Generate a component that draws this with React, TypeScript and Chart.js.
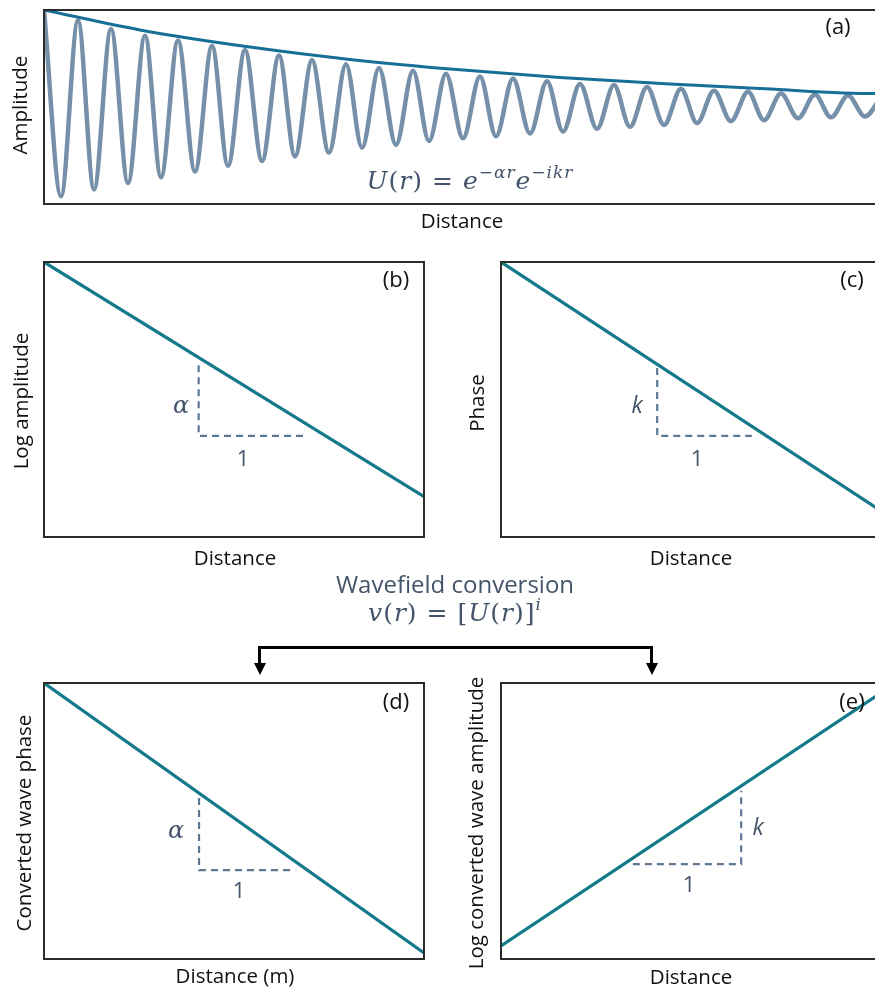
import React, { useEffect, useRef } from "react";
import { Chart, registerables } from "chart.js";
Chart.register(...registerables);

// ---------- Panel (a): damped wave, extrema ----------
const waveX = [0, 17, 34, 50, 67, 84, 101, 117, 134, 151, 168, 184, 201, 218, 235, 251, 268, 285, 302, 318, 335, 352, 369, 385, 402, 419, 436, 452, 469, 486, 503, 519, 536, 553, 570, 586, 603, 620, 637, 653, 670, 687, 704, 720, 737, 754, 771, 787, 804, 821, 838];
const waveY = [1.0, -0.96, 0.89, -0.89, 0.8, -0.82, 0.73, -0.76, 0.68, -0.7, 0.62, -0.64, 0.58, -0.59, 0.52, -0.54, 0.47, -0.5, 0.43, -0.45, 0.39, -0.42, 0.36, -0.38, 0.33, -0.35, 0.3, -0.33, 0.28, -0.3, 0.25, -0.28, 0.22, -0.25, 0.21, -0.23, 0.19, -0.21, 0.17, -0.19, 0.15, -0.17, 0.14, -0.16, 0.12, -0.14, 0.11, -0.13, 0.1, -0.12, 0.1];
const envX = [0, 96, 206, 306, 416, 516, 626, 721, 831, 836];
const envY = [1.0, 0.79, 0.61, 0.48, 0.37, 0.29, 0.22, 0.17, 0.12, 0.12];

// ---------- Panels (b)-(e): straight lines and slope triangles ----------
const lineX = [0, 1];
const lineBY = [1, 0.147];
const lineCY = [1, 0.095];
const lineDY = [1, 0.022];
const lineEY = [0.047, 0.964];

const triBX = [0.407, 0.407, 0.694];
const triBY = [0.625, 0.368, 0.368];
const triCX = [0.411, 0.411, 0.66];
const triCY = [0.615, 0.368, 0.368];
const triDX = [0.408, 0.408, 0.661];
const triDY = [0.583, 0.322, 0.322];
const triEX = [0.347, 0.632, 0.632];
const triEY = [0.344, 0.344, 0.61];

const TEAL = "#13798b";
const ENV = "#176f97";
const WAVE = "#7590a8";
const DASH = "#5f7892";
const SLATE = "#44546a";
const INK = "#111111";

const pts = (xs: number[], ys: number[]) => xs.map((x, i) => ({ x, y: ys[i] }));

const LABEL = '20.5px "Open Sans"';
const PLABEL = '22px "Open Sans"';
const SYM_A = 'italic 24px "DejaVu Serif"';
const SYM_K = 'italic 23px "Open Sans"';
const ONE = '22px "Open Sans"';

type TextItem = { t: string; x: number; y: number; font: string; color: string; rot?: boolean };
type PanelProps = {
  left: number; top: number; width: number; height: number;
  pad: { left: number; top: number; right: number; bottom: number };
  xMin: number; xMax: number; yMin: number; yMax: number;
  datasets: any[];
  texts: TextItem[];
};

function Panel(p: PanelProps) {
  const ref = useRef<HTMLCanvasElement>(null);
  useEffect(() => {
    const decor = {
      id: "decor",
      afterDatasetsDraw(chart: any) {
        const { ctx, chartArea: a } = chart;
        ctx.save();
        ctx.strokeStyle = "#2b2b2b";
        ctx.lineWidth = 2;
        ctx.strokeRect(a.left, a.top, a.right - a.left, a.bottom - a.top);
        for (const t of p.texts) {
          ctx.save();
          ctx.font = t.font;
          ctx.fillStyle = t.color;
          ctx.textAlign = "center";
          ctx.textBaseline = "alphabetic";
          ctx.translate(t.x - p.left, t.y - p.top);
          if (t.rot) ctx.rotate(-Math.PI / 2);
          ctx.fillText(t.t, 0, 0);
          ctx.restore();
        }
        ctx.restore();
      },
    };
    const chart = new Chart(ref.current as HTMLCanvasElement, {
      type: "line",
      data: { datasets: p.datasets },
      options: {
        animation: false,
        responsive: false,
        maintainAspectRatio: false,
        layout: { padding: p.pad },
        elements: { point: { radius: 0, hoverRadius: 0 } },
        plugins: { legend: { display: false }, tooltip: { enabled: false } },
        scales: {
          x: { type: "linear", display: false, min: p.xMin, max: p.xMax },
          y: { type: "linear", display: false, min: p.yMin, max: p.yMax },
        },
      },
      plugins: [decor],
    } as any);
    return () => chart.destroy();
  }, []);
  return (
    <canvas
      ref={ref}
      width={p.width}
      height={p.height}
      style={{ position: "absolute", left: p.left, top: p.top, width: p.width, height: p.height }}
    />
  );
}

const straight = (ys: number[]) => ({
  data: pts(lineX, ys),
  borderColor: TEAL,
  borderWidth: 3.2,
  tension: 0,
  fill: false,
});
const dashed = (xs: number[], ys: number[]) => ({
  data: pts(xs, ys),
  borderColor: DASH,
  borderWidth: 2.2,
  borderDash: [7, 5],
  tension: 0,
  fill: false,
});

const sup: React.CSSProperties = { fontSize: "0.68em", position: "relative", top: "-0.62em" };

export default function App() {
  const mathStyle: React.CSSProperties = {
    position: "absolute",
    fontFamily: '"DejaVu Serif", serif',
    color: SLATE,
    whiteSpace: "nowrap",
    textAlign: "center",
  };
  return (
    <div style={{ position: "absolute", left: 0, top: 0, width: 875, height: 992, overflow: "hidden", background: "#fff" }}>
      <Panel
        left={0} top={0} width={900} height={240}
        pad={{ left: 44, top: 10, right: 20, bottom: 36 }}
        xMin={0} xMax={836} yMin={-1.042} yMax={1.0}
        datasets={[
          { data: pts(envX, envY), borderColor: ENV, borderWidth: 3, cubicInterpolationMode: "monotone", fill: false },
          { data: pts(waveX, waveY), borderColor: WAVE, borderWidth: 4.5, cubicInterpolationMode: "monotone", fill: false },
        ]}
        texts={[
          { t: "Amplitude", x: 27, y: 105, font: LABEL, color: INK, rot: true },
          { t: "Distance", x: 462, y: 228, font: LABEL, color: INK },
          { t: "(a)", x: 838, y: 34, font: PLABEL, color: INK },
        ]}
      />
      <Panel
        left={0} top={240} width={440} height={340}
        pad={{ left: 44, top: 22, right: 16, bottom: 43 }}
        xMin={0} xMax={1} yMin={0} yMax={1}
        datasets={[straight(lineBY), dashed(triBX, triBY)]}
        texts={[
          { t: "Log amplitude", x: 28, y: 401, font: LABEL, color: INK, rot: true },
          { t: "Distance", x: 235, y: 565, font: LABEL, color: INK },
          { t: "(b)", x: 396, y: 287, font: PLABEL, color: INK },
          { t: "α", x: 181, y: 413, font: SYM_A, color: SLATE },
          { t: "1", x: 243, y: 466, font: ONE, color: SLATE },
        ]}
      />
      <Panel
        left={460} top={240} width={440} height={340}
        pad={{ left: 41, top: 22, right: 19, bottom: 43 }}
        xMin={0} xMax={1} yMin={0} yMax={1}
        datasets={[straight(lineCY), dashed(triCX, triCY)]}
        texts={[
          { t: "Phase", x: 484, y: 403, font: LABEL, color: INK, rot: true },
          { t: "Distance", x: 691, y: 565, font: LABEL, color: INK },
          { t: "(c)", x: 852, y: 287, font: PLABEL, color: INK },
          { t: "k", x: 637, y: 413, font: SYM_K, color: SLATE },
          { t: "1", x: 697, y: 466, font: ONE, color: SLATE },
        ]}
      />
      <Panel
        left={0} top={660} width={440} height={332}
        pad={{ left: 44, top: 23, right: 16, bottom: 33 }}
        xMin={0} xMax={1} yMin={0} yMax={1}
        datasets={[straight(lineDY), dashed(triDX, triDY)]}
        texts={[
          { t: "Converted wave phase", x: 31, y: 823, font: LABEL, color: INK, rot: true },
          { t: "Distance (m)", x: 235, y: 983, font: LABEL, color: INK },
          { t: "(d)", x: 396, y: 709, font: PLABEL, color: INK },
          { t: "α", x: 176, y: 838, font: SYM_A, color: SLATE },
          { t: "1", x: 239, y: 898, font: ONE, color: SLATE },
        ]}
      />
      <Panel
        left={460} top={660} width={440} height={332}
        pad={{ left: 41, top: 23, right: 19, bottom: 33 }}
        xMin={0} xMax={1} yMin={0} yMax={1}
        datasets={[straight(lineEY), dashed(triEX, triEY)]}
        texts={[
          { t: "Log converted wave amplitude", x: 483, y: 823, font: LABEL, color: INK, rot: true },
          { t: "Distance", x: 691, y: 984, font: LABEL, color: INK },
          { t: "(e)", x: 852, y: 709, font: PLABEL, color: INK },
          { t: "k", x: 758, y: 835, font: SYM_K, color: SLATE },
          { t: "1", x: 689, y: 892, font: ONE, color: SLATE },
        ]}
      />

      {/* equation inside panel (a) */}
      <div style={{ ...mathStyle, left: 270, width: 400, top: 168, fontSize: 25, lineHeight: "25px", letterSpacing: 1 }}>
        <i>U</i>(<i>r</i>) = <i>e</i><span style={sup}>−<i>αr</i></span><i>e</i><span style={sup}>−<i>ikr</i></span>
      </div>

      {/* conversion title */}
      <div style={{ position: "absolute", left: 255, width: 400, top: 572, textAlign: "center", fontFamily: '"Open Sans"', fontSize: 24, lineHeight: "24px", color: SLATE, whiteSpace: "nowrap" }}>
        Wavefield conversion
      </div>
      <div style={{ ...mathStyle, left: 255, width: 400, top: 600, fontSize: 25, lineHeight: "25px", letterSpacing: 1 }}>
        <i>v</i>(<i>r</i>) = [<i>U</i>(<i>r</i>)]<span style={sup}><i>i</i></span>
      </div>

      {/* bracket arrow */}
      <div style={{ position: "absolute", left: 258, top: 646, width: 395, height: 3, background: "#000" }} />
      <div style={{ position: "absolute", left: 258, top: 646, width: 3, height: 18, background: "#000" }} />
      <div style={{ position: "absolute", left: 650, top: 646, width: 3, height: 18, background: "#000" }} />
      <div style={{ position: "absolute", left: 253.5, top: 663, width: 0, height: 0, borderLeft: "6px solid transparent", borderRight: "6px solid transparent", borderTop: "12px solid #000" }} />
      <div style={{ position: "absolute", left: 645.5, top: 663, width: 0, height: 0, borderLeft: "6px solid transparent", borderRight: "6px solid transparent", borderTop: "12px solid #000" }} />
    </div>
  );
}
